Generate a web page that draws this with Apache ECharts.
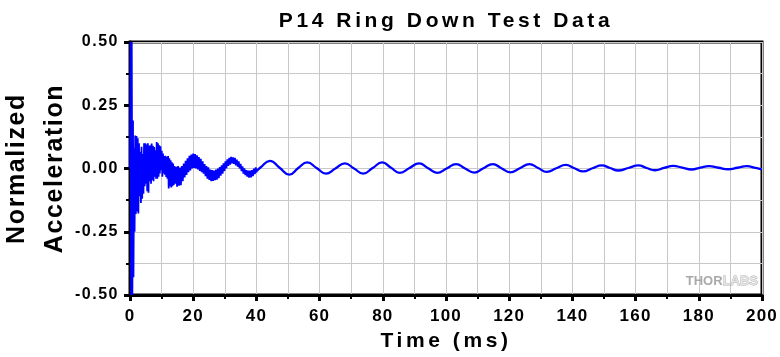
<!DOCTYPE html>
<html>
<head>
<meta charset="utf-8">
<script src="https://cdn.jsdelivr.net/npm/echarts@6/dist/echarts.min.js"></script>
<style>
html,body{margin:0;padding:0;background:#fff;}
#chart{width:780px;height:357px;}
</style>
</head>
<body>
<div id="chart"></div>
<script>
// Letter spacing to mimic the widely spaced lettering of the reference
(function(){
  var P = CanvasRenderingContext2D.prototype;
  if (!('letterSpacing' in P)) return;
  var SP = {21:'3.6px', 25:'1.6px', 16:'1.5px', 17:'1.2px'};
  ['fillText','strokeText','measureText'].forEach(function(name){
    var f = P[name];
    P[name] = function(){
      var m = /(\d+(?:\.\d+)?)px/.exec(this.font);
      this.letterSpacing = (m && SP[+m[1]]) || '0px';
      return f.apply(this, arguments);
    };
  });
})();

// ---- Data ----
const xTicks = [0, 20, 40, 60, 80, 100, 120, 140, 160, 180, 200];
const yTicks = [-0.50, -0.25, 0.00, 0.25, 0.50];

// early, strongly noisy part of the ring-down (time in ms, normalized acceleration)
const earlyTime = [
  0.0, 0.15, 0.35, 0.55, 0.75, 0.95, 1.1, 1.3, 1.45, 1.65, 1.85, 2.05, 2.25, 2.45, 2.65, 2.85,
  3.05, 3.25, 3.45, 3.65, 3.85, 4.05, 4.25, 4.45, 4.65, 4.85, 5.05, 5.25, 5.45, 5.65, 5.85,
  6.05, 6.25, 6.45, 6.65, 6.85, 7.05, 7.25, 7.45, 7.65, 7.85, 8.05, 8.25, 8.45, 8.65, 8.85,
  9.05, 9.25, 9.45, 9.65, 9.85, 10.05, 10.25, 10.45, 10.65, 10.85, 11.05, 11.25, 11.45, 11.65, 11.85,
  12.05, 12.25, 12.45, 12.65, 12.85, 13.05, 13.25, 13.45, 13.65, 13.85, 14.05,
  14.3, 14.6, 14.9, 15.2, 15.5, 15.8, 16.1, 16.4, 16.7, 17.0, 17.3, 17.6, 17.9, 18.2, 18.5, 18.8,
  19.1, 19.4, 19.7, 20.0, 20.3, 20.6, 20.9, 21.2, 21.5, 21.8, 22.1, 22.4, 22.7, 23.0, 23.3, 23.6,
  23.9, 24.2, 24.5, 24.8, 25.1, 25.4, 25.7, 26.0, 26.3, 26.6, 26.9, 27.2, 27.5, 27.8, 28.1, 28.4,
  28.7, 29.0, 29.3, 29.6, 29.9, 30.2, 30.5, 30.8, 31.1, 31.4, 31.7, 32.0, 32.3, 32.6, 32.9, 33.2,
  33.5, 33.8, 34.1, 34.4, 34.7, 35.0, 35.3, 35.6, 35.9, 36.2, 36.5, 36.8, 37.1, 37.4, 37.7, 38.0,
  38.3, 38.6, 38.9, 39.2, 39.5, 39.8, 40.1
];
const earlyValue = [
  0.0, 0.50, -0.50, 0.50, -0.50, 0.19, -0.43, 0.08, -0.25, 0.13, -0.18, 0.128, -0.17, 0.12, -0.178, 0.10,
  -0.11, 0.066, -0.136, 0.086, -0.12, 0.057, -0.10, 0.10, -0.07, 0.10, -0.06, 0.095, -0.09, 0.10, -0.096,
  0.09, -0.05, 0.092, -0.06, 0.099, -0.045, 0.09, -0.05, 0.085, -0.033, 0.072, -0.04, 0.105, -0.04, 0.10,
  -0.033, 0.092, -0.02, 0.088, -0.007, 0.07, -0.033, 0.059, -0.02, 0.049, -0.025, 0.05, -0.033, 0.045, -0.04,
  0.049, -0.079, 0.04, -0.07, 0.033, -0.075, 0.025, -0.07, 0.02, -0.065, 0.01,
  -0.06, 0.007, -0.072, 0.01, -0.068, 0.004, -0.066, 0.01, -0.05, 0.02, -0.035, 0.03, -0.025, 0.04, -0.015, 0.05,
  -0.008, 0.055, 0.0, 0.059, 0.002, 0.057, 0.0, 0.052, -0.004, 0.045, -0.01, 0.038, -0.015, 0.028, -0.02, 0.018,
  -0.03, 0.01, -0.04, 0.005, -0.045, -0.004, -0.05, -0.006, -0.049, -0.008, -0.046, -0.004, -0.044, 0.0, -0.038, 0.006,
  -0.028, 0.013, -0.02, 0.02, -0.01, 0.028, 0.0, 0.036, 0.01, 0.042, 0.015, 0.046, 0.02, 0.044, 0.018, 0.042,
  0.012, 0.035, 0.007, 0.028, 0.0, 0.018, -0.01, 0.008, -0.02, 0.0, -0.026, -0.006, -0.032, -0.008, -0.036, -0.008,
  -0.035, -0.006, -0.03, 0.0, -0.022, 0.004, -0.016
];

// later, clean decaying oscillation: peaks, troughs and mid crossings
const lateTime = [
  40.1, 41.3, 44.3, 47.35, 50.4, 53.25, 56.1, 59.05, 62.0, 65.0, 68.0, 70.9, 73.8, 76.8, 79.8,
  82.6, 85.4, 88.45, 91.5, 94.35, 97.2, 100.2, 103.2, 106.05, 108.9, 111.85, 114.8, 117.55, 120.3,
  123.35, 126.4, 129.15, 131.9, 134.9, 137.9, 140.65, 143.4, 146.35, 149.3, 151.9, 154.5, 157.7,
  160.9, 163.5, 166.1, 169.0, 171.9, 174.8, 177.7, 180.45, 183.2, 186.25, 189.3, 192.25, 195.2, 198.0, 200.0
];
const lateValue = [
  -0.010, 0.004, 0.030, 0.003, -0.024, 0.002, 0.024, 0.002, -0.020, 0.0, 0.020, 0.0, -0.020, 0.002, 0.024,
  0.003, -0.017, 0.002, 0.020, 0.001, -0.017, 0.0, 0.017, 0.0, -0.016, 0.001, 0.017, 0.001, -0.015,
  0.001, 0.017, 0.002, -0.013, 0.001, 0.014, 0.001, -0.011, 0.001, 0.012, 0.002, -0.008, 0.002,
  0.012, 0.002, -0.007, 0.002, 0.010, 0.003, -0.004, 0.003, 0.009, 0.003, -0.003, 0.003, 0.009, 0.002, -0.004
];

const FONT = '"Liberation Sans", Arial, sans-serif';
const chart = echarts.init(document.getElementById('chart'));
chart.setOption({
  animation: false,
  backgroundColor: '#ffffff',
  title: {
    text: 'P14 Ring Down Test Data',
    left: 446, top: 9, padding: 0, textAlign: 'center',
    textStyle: { fontFamily: FONT, fontSize: 21, fontWeight: 'bold', color: '#000' }
  },
  grid: {
    left: 130, right: 18, top: 42, bottom: 62, containLabel: false, outerBoundsMode: 'none',
    show: true, borderColor: '#000', borderWidth: 3, backgroundColor: 'transparent'
  },
  xAxis: {
    type: 'value', min: xTicks[0], max: xTicks[xTicks.length - 1], interval: 20,
    name: 'Time (ms)', nameLocation: 'middle', nameGap: 34, nameMoveOverlap: false,
    nameTextStyle: { fontFamily: FONT, fontSize: 21, fontWeight: 'bold', color: '#000' },
    axisLine: { show: true, onZero: false, lineStyle: { color: '#000', width: 3 } },
    axisTick: { show: true, inside: false, length: 6, lineStyle: { color: '#000', width: 3 } },
    minorTick: { show: true, splitNumber: 2, length: 4, lineStyle: { color: '#000', width: 2 } },
    axisLabel: { margin: 12, fontFamily: FONT, fontSize: 17, fontWeight: 'bold', color: '#000' },
    splitLine: { show: true, lineStyle: { color: '#c8c8c8', width: 1 } },
    minorSplitLine: { show: true, lineStyle: { color: '#c8c8c8', width: 1 } }
  },
  yAxis: {
    type: 'value', min: yTicks[0], max: yTicks[yTicks.length - 1], interval: 0.25,
    name: 'Normalized\nAcceleration', nameLocation: 'middle', nameGap: 56, nameMoveOverlap: false,
    nameTextStyle: { fontFamily: FONT, fontSize: 25, fontWeight: 'bold', color: '#000', lineHeight: 38 },
    axisLine: { show: true, onZero: false, lineStyle: { color: '#000', width: 3 } },
    axisTick: { show: true, inside: false, length: 6, lineStyle: { color: '#000', width: 3 } },
    minorTick: { show: true, splitNumber: 2, length: 4, lineStyle: { color: '#000', width: 2 } },
    axisLabel: {
      margin: 11, fontFamily: FONT, fontSize: 16, fontWeight: 'bold', color: '#000',
      formatter: function (v) { return v.toFixed(2); }
    },
    splitLine: { show: true, lineStyle: { color: '#c8c8c8', width: 1 } },
    minorSplitLine: { show: true, lineStyle: { color: '#c8c8c8', width: 1 } }
  },
  graphic: [{
    type: 'text', x: 758, y: 281, z: 10,
    style: {
      text: '{a|THOR}{b|LABS}', textAlign: 'right', textVerticalAlign: 'middle',
      rich: {
        a: { fill: '#a9a9a9', fontSize: 13, fontWeight: 'bold', fontFamily: FONT },
        b: { fill: '#e4e4e4', stroke: '#b0b0b0', lineWidth: 0.8, fontSize: 13, fontWeight: 'bold', fontFamily: FONT }
      }
    }
  }],
  series: [{
    type: 'line', name: 'early', showSymbol: false, symbol: 'none', clip: true,
    lineStyle: { color: '#0000ff', width: 1.8 },
    data: earlyTime.map(function (t, i) { return [t, earlyValue[i]]; })
  }, {
    type: 'line', name: 'late', showSymbol: false, symbol: 'none', smooth: 0.5, clip: true,
    lineStyle: { color: '#0000ff', width: 2.3 },
    data: lateTime.map(function (t, i) { return [t, lateValue[i]]; })
  }]
});
</script>
</body>
</html>
